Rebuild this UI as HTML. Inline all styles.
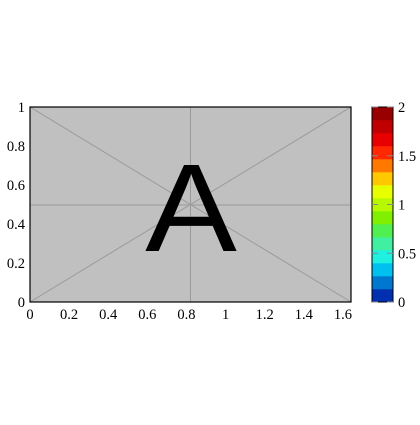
<!DOCTYPE html>
<html><head><meta charset="utf-8"><style>
body{margin:0;background:#fff;width:420px;height:420px;overflow:hidden}
text{font-family:"Liberation Serif",serif;font-size:14.5px;fill:#000}
</style></head><body>
<svg id="c" width="420" height="420">
<rect x="30" y="107" width="321" height="195" fill="#c0c0c0"/>
<g stroke="#9a9a9a" stroke-width="1">
<line x1="30" y1="107" x2="351" y2="302"/><line x1="30" y1="302" x2="351" y2="107"/>
<line x1="190.5" y1="107" x2="190.5" y2="302"/><line x1="30" y1="205" x2="351" y2="205"/>
</g>
<text x="191" y="251" text-anchor="middle" transform="translate(191 0) scale(1.1 1) translate(-191 0)" style="font-family:'Liberation Sans',sans-serif;font-size:125px">A</text>
<rect x="30" y="107" width="321" height="195" fill="none" stroke="#000" stroke-width="1.2"/>
<g id="ax"></g>
<g id="cb"></g>
</svg>
<script>
const xTicks=[0,0.2,0.4,0.6,0.8,1,1.2,1.4,1.6];
const yTicks=[0,0.2,0.4,0.6,0.8,1];
const cbTicks=[0,0.5,1,1.5,2];
const cbColors=["#0030b0","#0078d0","#00c0f0","#20f0e0","#40f0a0","#50f050","#80f000","#b8f800","#e8ff00","#ffc800","#ff7800","#ff2800","#e80000","#c00000","#980000"];
const NS="http://www.w3.org/2000/svg";
const xs=v=>30+v*195.6, ys=v=>302-v*195, cs=v=>302-v*97.5;
const ax=document.getElementById('ax'), cb=document.getElementById('cb');
function mk(tag,attrs,parent,txt){const e=document.createElementNS(NS,tag);for(const k in attrs)e.setAttribute(k,attrs[k]);if(txt!==undefined)e.textContent=txt;parent.appendChild(e);return e;}
xTicks.forEach(v=>{
 const t=mk('text',{x:xs(v),y:319,'text-anchor':'middle'},ax,String(v));
 
 
});
yTicks.forEach(v=>{
 const t=mk('text',{x:25,y:ys(v)+5,'text-anchor':'end'},ax,String(v));
 
 
});
const h=195/cbColors.length;
cbColors.forEach((c,i)=>{
 const r=mk('rect',{x:372,y:302-(i+1)*h,width:21,height:h+0.3,fill:c},cb);
 
 
});
mk('rect',{x:372,y:107,width:21,height:195,fill:'none',stroke:'#000'},cb);
cbTicks.forEach(v=>{
 mk('line',{x1:372,x2:378,y1:cs(v),y2:cs(v),stroke:'#888'},cb);
 mk('line',{x1:387,x2:393,y1:cs(v),y2:cs(v),stroke:'#888'},cb);
 const t=mk('text',{x:398,y:cs(v)+5},cb,String(v));
 
 
});
</script>
</body></html>
